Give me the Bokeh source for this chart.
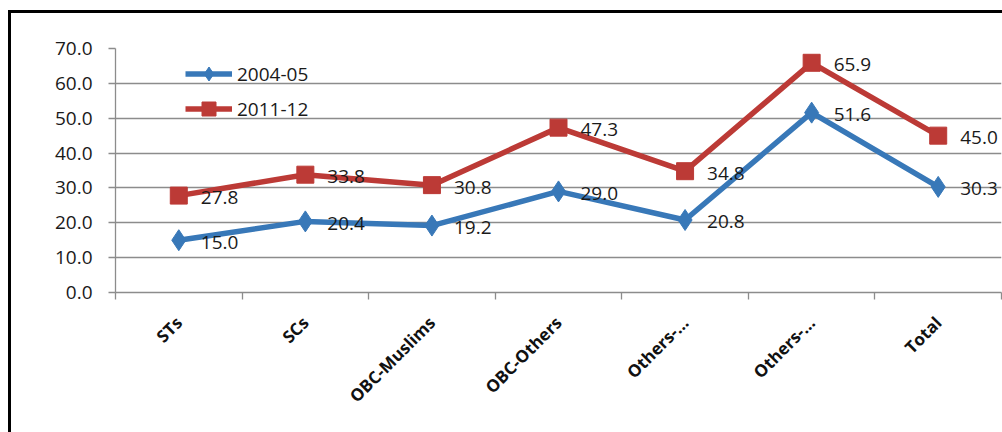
from bokeh.plotting import figure
from bokeh.models import (Range1d, FixedTicker, PrintfTickFormatter, ColumnDataSource,
                          LabelSet, Legend, LegendItem, InlineStyleSheet)
from bokeh.core.properties import value
from bokeh.embed import file_html
from bokeh.resources import INLINE

categories = ["STs", "SCs", "OBC-Muslims", "OBC-Others", "Others-…", "Others-…", "Total"]
series_names = ["2004-05", "2011-12"]
values_2004_05 = [15.0, 20.4, 19.2, 29.0, 20.8, 51.6, 30.3]
values_2011_12 = [27.8, 33.8, 30.8, 47.3, 34.8, 65.9, 45.0]
y_ticks = [0, 10, 20, 30, 40, 50, 60, 70]

BLUE = "#3878b8"
RED = "#bc3a36"
GRID = "#8c8c8c"
FONT = "Open Sans"

n = len(categories)
xs = [i + 0.5 for i in range(n)]

p = figure(width=1002, height=432, output_backend="svg", toolbar_location=None,
           x_range=Range1d(0, n), y_range=Range1d(y_ticks[0], y_ticks[-1]),
           min_border_left=115, min_border_right=1, min_border_top=48, min_border_bottom=140)
p.outline_line_color = None
p.background_fill_color = "white"
p.border_fill_color = "white"

# y axis
p.yaxis.ticker = FixedTicker(ticks=y_ticks)
p.yaxis.formatter = PrintfTickFormatter(format="%.1f")
p.yaxis.major_label_text_font = FONT
p.yaxis.major_label_text_font_size = "19px"
p.yaxis.major_label_text_color = "#1a1a1a"
p.yaxis.major_label_standoff = 16
p.yaxis.major_tick_out = 7
p.yaxis.major_tick_in = 0
p.yaxis.major_tick_line_color = GRID
p.yaxis.major_tick_line_width = 1.3
p.yaxis.minor_tick_line_color = None
p.yaxis.axis_line_color = GRID
p.yaxis.axis_line_width = 1.3

# x axis: labels at category centres, tick marks at boundaries
p.xaxis.ticker = FixedTicker(ticks=xs, minor_ticks=list(range(n + 1)))
p.xaxis.major_label_overrides = {x: c for x, c in zip(xs, categories)}
p.xaxis.major_label_orientation = 0.785398
p.xaxis.major_label_text_font = FONT
p.xaxis.major_label_text_font_style = "bold"
p.xaxis.major_label_text_font_size = "17px"
p.xaxis.major_label_text_color = "#111111"
p.xaxis.major_label_standoff = 20
p.xaxis.major_tick_out = 0
p.xaxis.major_tick_in = 0
p.xaxis.minor_tick_out = 7
p.xaxis.minor_tick_in = 0
p.xaxis.minor_tick_line_color = GRID
p.xaxis.minor_tick_line_width = 1.3
p.xaxis.axis_line_color = GRID
p.xaxis.axis_line_width = 1.3

p.xgrid.grid_line_color = None
p.ygrid.grid_line_color = GRID
p.ygrid.grid_line_width = 1.3

src = ColumnDataSource(dict(x=xs, a=values_2004_05, b=values_2011_12,
                            la=["%.1f" % v for v in values_2004_05],
                            lb=["%.1f" % v for v in values_2011_12]))

l1 = p.line("x", "a", source=src, line_color=BLUE, line_width=5.5)
m1 = p.scatter("x", "a", source=src, marker="diamond", size=21, fill_color=BLUE, line_color=BLUE)
l2 = p.line("x", "b", source=src, line_color=RED, line_width=5.5)
m2 = p.scatter("x", "b", source=src, marker="square", size=17, fill_color=RED, line_color=RED)

for col, lab in (("a", "la"), ("b", "lb")):
    ls = LabelSet(x="x", y=col, text=lab, source=src, x_offset=22, y_offset=-2,
                  text_baseline="middle", text_align="left", text_font=value(FONT),
                  text_font_size=value("19px"), text_color="#1a1a1a")
    p.add_layout(ls)

legend = Legend(items=[LegendItem(label=series_names[0], renderers=[l1, m1]),
                       LegendItem(label=series_names[1], renderers=[l2, m2])],
                location=(70, 166), orientation="vertical")
legend.glyph_width = 47
legend.glyph_height = 35
legend.spacing = 0
legend.padding = 0
legend.margin = 0
legend.label_standoff = 5
legend.label_text_font = FONT
legend.label_text_font_size = "19px"
legend.label_text_color = "#1a1a1a"
legend.border_line_color = None
legend.background_fill_alpha = 0
p.add_layout(legend, "center")

# outer chart-area frame (black), drawn as an overlay that does not affect layout
p.stylesheets = [InlineStyleSheet(css="""
:host { position: relative; overflow: hidden; }
:host::after { content: ''; position: absolute; left: 8px; top: 10px; width: 1010px; height: 440px;
  border: 3px solid #000; box-sizing: border-box; pointer-events: none; z-index: 10; }
""")]

open("out.html", "w").write(file_html(p, INLINE))
